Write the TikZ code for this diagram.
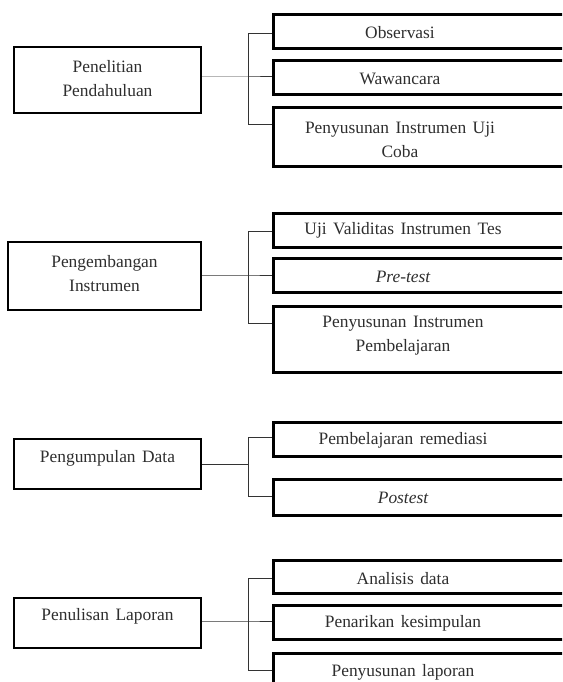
\documentclass[tikz,border=0pt]{standalone}
\usepackage{fontspec}
\setmainfont{Liberation Serif}
\newcommand\mytxtfont{\fontsize{17.4}{24}\selectfont}
\newcommand\wsp{\hspace{6.5pt}}
\begin{document}
\begin{tikzpicture}[x=1pt,y=-1pt,
  lbox/.style={draw=black,line width=2.2pt},
  rbox/.style={draw=black,line width=3pt},
  conn/.style={draw=black!80,line width=1pt},
  txt/.style={font=\mytxtfont,text=black!82,align=center,inner sep=0pt}]
\useasboundingbox (0,0) rectangle (562,682);
\clip (0,0) rectangle (562,682);
% ---------- Group 1
\node[lbox,minimum width=187pt,minimum height=66pt,inner sep=0pt] (l1) at (107.5,80) {};
\node[rbox,minimum width=330pt,minimum height=34pt,inner sep=0pt] (r11) at (438,32) {};
\node[rbox,minimum width=330pt,minimum height=34pt,inner sep=0pt] (r12) at (438,78) {};
\node[rbox,minimum width=330pt,minimum height=58pt,inner sep=0pt] (r13) at (438,137) {};
\node[txt] at (107.5,78.5) {Penelitian\\Pendahuluan};
\node[txt] at (400,33) {Observasi};
\node[txt] at (400,79) {Wawancara};
\node[txt] at (400,140) {Penyusunan\wsp Instrumen\wsp Uji\\Coba};
\coordinate (t1) at (248,34);
\coordinate (m1) at (248,77);
\coordinate (b1) at (248,125);
\draw[conn] (t1) -- (b1);
\draw[conn] (l1.east |- m1) -- (m1) -- (m1 -| r12.west);
\draw[conn] (t1) -- (t1 -| r11.west);
\draw[conn] (b1) -- (b1 -| r13.west);
% ---------- Group 2
\node[lbox,minimum width=193pt,minimum height=68pt,inner sep=0pt] (l2) at (104.5,276) {};
\node[rbox,minimum width=330pt,minimum height=34pt,inner sep=0pt] (r21) at (438,230) {};
\node[rbox,minimum width=330pt,minimum height=34pt,inner sep=0pt] (r22) at (438,275) {};
\node[rbox,minimum width=330pt,minimum height=66pt,inner sep=0pt] (r23) at (438,339) {};
\node[txt] at (104.5,274) {Pengembangan\\Instrumen};
\node[txt] at (403,230) {Uji\wsp Validitas\wsp Instrumen\wsp Tes};
\node[txt] at (403,277) {\itshape Pre-test};
\node[txt] at (403,335.5) {Penyusunan\wsp Instrumen\\Pembelajaran};
\coordinate (t2) at (248,231);
\coordinate (m2) at (248,275);
\coordinate (b2) at (248,323);
\draw[conn] (t2) -- (b2);
\draw[conn] (l2.east |- m2) -- (m2) -- (m2 -| r22.west);
\draw[conn] (t2) -- (t2 -| r21.west);
\draw[conn] (b2) -- (b2 -| r23.west);
% ---------- Group 3
\node[lbox,minimum width=187pt,minimum height=50pt,inner sep=0pt] (l3) at (107.5,464) {};
\node[rbox,minimum width=330pt,minimum height=34pt,inner sep=0pt] (r31) at (438,439) {};
\node[rbox,minimum width=330pt,minimum height=36pt,inner sep=0pt] (r32) at (438,497) {};
\node[txt] at (107.5,458) {Pengumpulan\wsp Data};
\node[txt] at (403,440) {Pembelajaran\wsp remediasi};
\node[txt] at (403,498) {\itshape Postest};
\coordinate (t3) at (248,437);
\coordinate (m3) at (248,464);
\coordinate (b3) at (248,496);
\draw[conn] (t3) -- (b3);
\draw[conn] (l3.east |- m3) -- (m3);
\draw[conn] (t3) -- (t3 -| r31.west);
\draw[conn] (b3) -- (b3 -| r32.west);
% ---------- Group 4
\node[lbox,minimum width=187pt,minimum height=50pt,inner sep=0pt] (l4) at (107.5,623) {};
\node[rbox,minimum width=330pt,minimum height=33pt,inner sep=0pt] (r41) at (438,576.5) {};
\node[rbox,minimum width=330pt,minimum height=34pt,inner sep=0pt] (r42) at (438,622) {};
\node[rbox,minimum width=330pt,minimum height=50pt,inner sep=0pt] (r43) at (438,678) {};
\node[txt] at (107.5,616) {Penulisan\wsp Laporan};
\node[txt] at (403,579) {Analisis\wsp data};
\node[txt] at (403,623) {Penarikan\wsp kesimpulan};
\node[txt] at (403,672) {Penyusunan\wsp laporan};
\coordinate (t4) at (248,578);
\coordinate (m4) at (248,621);
\coordinate (b4) at (248,670);
\draw[conn] (t4) -- (b4);
\draw[conn] (l4.east |- m4) -- (m4) -- (m4 -| r42.west);
\draw[conn] (t4) -- (t4 -| r41.west);
\draw[conn] (b4) -- (b4 -| r43.west);
\end{tikzpicture}
\end{document}
